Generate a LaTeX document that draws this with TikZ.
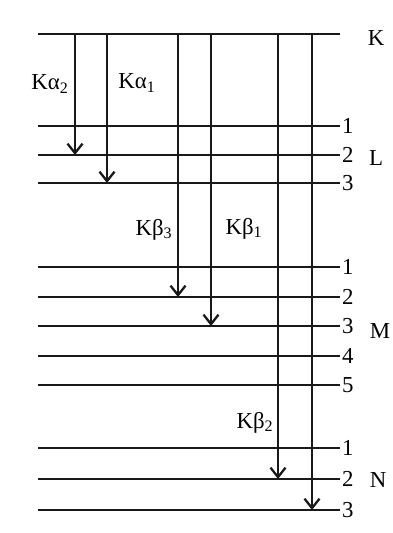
\documentclass[tikz,border=0pt]{standalone}
\usepackage{fontspec}
\setmainfont{Liberation Serif}
\usetikzlibrary{arrows.meta}
\tikzset{
level/.style={
  line width=1.4pt,
  draw=black!90
},
trans/.style={
  -{Straight Barb[length=1.9mm,width=3mm,line width=1.3pt]},
  line width=1.4pt,
  draw=black!90
},
numlabel/.style={
  anchor=west,
  inner sep=1pt,
  font=\fontsize{13}{15}\selectfont
},
shelllabel/.style={
  font=\fontsize{13}{15}\selectfont
},
linelabel/.style={
  font=\fontsize{13}{15}\selectfont
}
}
\begin{document}
\begin{tikzpicture}[x=0.02cm,y=-0.02cm]
  \useasboundingbox (0,0) rectangle (392,533);

  % energy levels
  \draw[level] (38,34) coordinate (Kl) -- (340,34) coordinate (Kr);
  \foreach \name/\y/\n in {L1/126/1, L2/155/2, L3/183/3,
                           M1/267/1, M2/297/2, M3/326/3, M4/356/4, M5/385/5,
                           N1/448/1, N2/479/2, N3/510/3}
  {
    \draw[level] (38,\y) coordinate (\name l) -- (340,\y) coordinate (\name r);
    \node[numlabel] (\name n) at (\name r) {\n};
  }

  % shell names
  \node[shelllabel] (K) at (376,38) {K};
  \node[shelllabel] (L) at (376,158) {L};
  \node[shelllabel] (M) at (380,331) {M};
  \node[shelllabel] (N) at (378,480) {N};

  % transitions
  \coordinate (ka2) at (75,0);
  \coordinate (ka1) at (107,0);
  \coordinate (kb3) at (178,0);
  \coordinate (kb1) at (211,0);
  \coordinate (kb2) at (278,0);
  \coordinate (kb4) at (312,0);
  \draw[trans] (ka2 |- Kl) -- (ka2 |- L2l);
  \draw[trans] (ka1 |- Kl) -- (ka1 |- L3l);
  \draw[trans] (kb3 |- Kl) -- (kb3 |- M2l);
  \draw[trans] (kb1 |- Kl) -- (kb1 |- M3l);
  \draw[trans] (kb2 |- Kl) -- (kb2 |- N2l);
  \draw[trans] (kb4 |- Kl) -- (kb4 |- N3l);

  \node[linelabel] (la2) at (50,84) {Kα\textsubscript{2}};
  \node[linelabel] (la1) at (137,83) {Kα\textsubscript{1}};
  \node[linelabel] (lb3) at (154,230) {Kβ\textsubscript{3}};
  \node[linelabel] (lb1) at (244,229) {Kβ\textsubscript{1}};
  \node[linelabel] (lb2) at (255,423) {Kβ\textsubscript{2}};
\end{tikzpicture}
\end{document}
